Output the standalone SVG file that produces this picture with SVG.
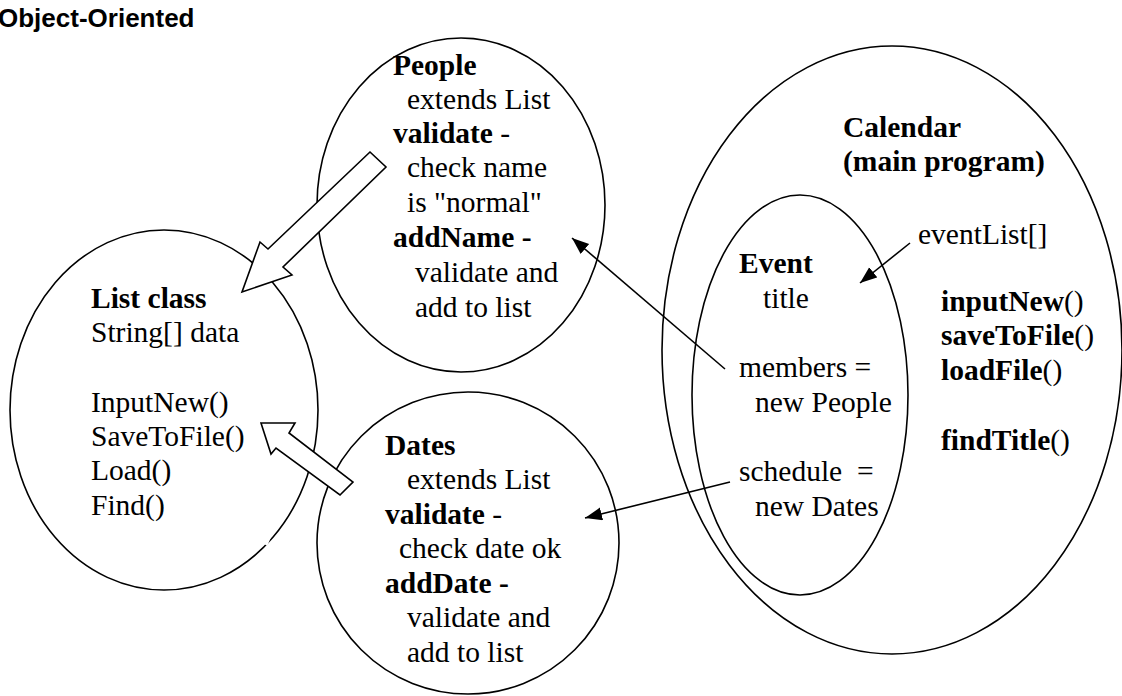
<svg xmlns="http://www.w3.org/2000/svg" width="1122" height="696" viewBox="0 0 1122 696">
<style>
.e{fill:none;stroke:#000;stroke-width:1.6}
.t{font-family:"Liberation Serif","Times New Roman",serif;font-size:29.5px;fill:#000}
.b{font-weight:bold}
.h{fill:#fff;stroke:#000;stroke-width:1.6;stroke-linejoin:miter}
.c{fill:none;stroke:#000;stroke-width:1.6}
.ttl{font-family:"Liberation Sans",Arial,sans-serif;font-weight:bold;font-size:26px;fill:#000}
</style>
<defs>
<marker id="ah" markerUnits="userSpaceOnUse" markerWidth="18" markerHeight="14" refX="17" refY="6.5" orient="auto">
<path d="M0,0 L17,6.5 L0,13 z" fill="#000"/>
</marker>
</defs>
<rect width="1122" height="696" fill="#fff"/>
<text class="ttl" x="-2" y="27">Object-Oriented</text>

<g id="list">
<ellipse class="e" cx="164" cy="410" rx="154" ry="180"/>
<line x1="270" y1="536" x2="266" y2="545" stroke="#fff" stroke-width="3"/>
<text class="t"><tspan class="b" x="91" y="308">List class</tspan><tspan x="91" y="342">String[] data</tspan><tspan x="91" y="412">InputNew()</tspan><tspan x="91" y="446">SaveToFile()</tspan><tspan x="91" y="480">Load()</tspan><tspan x="91" y="515">Find()</tspan></text>
</g>

<g id="people">
<ellipse class="e" cx="461" cy="205" rx="144" ry="167"/>
<text class="t"><tspan class="b" x="393" y="75">People</tspan><tspan x="407" y="109">extends List</tspan><tspan class="b" x="393" y="143">validate</tspan><tspan> -</tspan><tspan x="407" y="177">check name</tspan><tspan x="407" y="212">is "normal"</tspan><tspan class="b" x="393" y="247">addName -</tspan><tspan x="415" y="282">validate and</tspan><tspan x="415" y="317">add to list</tspan></text>
</g>

<g id="dates">
<ellipse class="e" cx="468" cy="543" rx="151" ry="151"/>
<text class="t"><tspan class="b" x="385" y="455">Dates</tspan><tspan x="407" y="489">extends List</tspan><tspan class="b" x="385" y="524">validate</tspan><tspan> -</tspan><tspan x="399" y="558">check date ok</tspan><tspan class="b" x="385" y="593">addDate -</tspan><tspan x="407" y="627">validate and</tspan><tspan x="407" y="662">add to list</tspan></text>
</g>

<g id="calendar">
<ellipse class="e" cx="892" cy="350" rx="230" ry="304"/>
<text class="t"><tspan class="b" x="843" y="137">Calendar</tspan><tspan class="b" x="843" y="171">(main program)</tspan><tspan x="918" y="244">eventList[]</tspan><tspan class="b" x="941" y="311">inputNew</tspan><tspan>()</tspan><tspan class="b" x="941" y="345">saveToFile</tspan><tspan>()</tspan><tspan class="b" x="941" y="380">loadFile</tspan><tspan>()</tspan><tspan class="b" x="941" y="450">findTitle</tspan><tspan>()</tspan></text>
</g>

<g id="event">
<ellipse class="e" cx="800" cy="395" rx="108" ry="200"/>
<text class="t"><tspan class="b" x="739" y="273">Event</tspan><tspan x="763" y="308">title</tspan><tspan x="739" y="377">members =</tspan><tspan x="755" y="412">new People</tspan><tspan x="739" y="481" xml:space="preserve">schedule  =</tspan><tspan x="755" y="516">new Dates</tspan></text>
</g>

<g id="connectors">
<polygon class="h" points="370,152 268,249 260,242 242,292 292,275 283,267 386,167"/>
<polygon class="h" points="261,423 295,423 289,433 353,482 340,495 276,448 271,454"/>
<line class="c" x1="725" y1="369" x2="572" y2="238" marker-end="url(#ah)"/>
<line class="c" x1="730" y1="482" x2="585" y2="518" marker-end="url(#ah)"/>
<line class="c" x1="910" y1="243" x2="860" y2="283" marker-end="url(#ah)"/>
</g>
</svg>
